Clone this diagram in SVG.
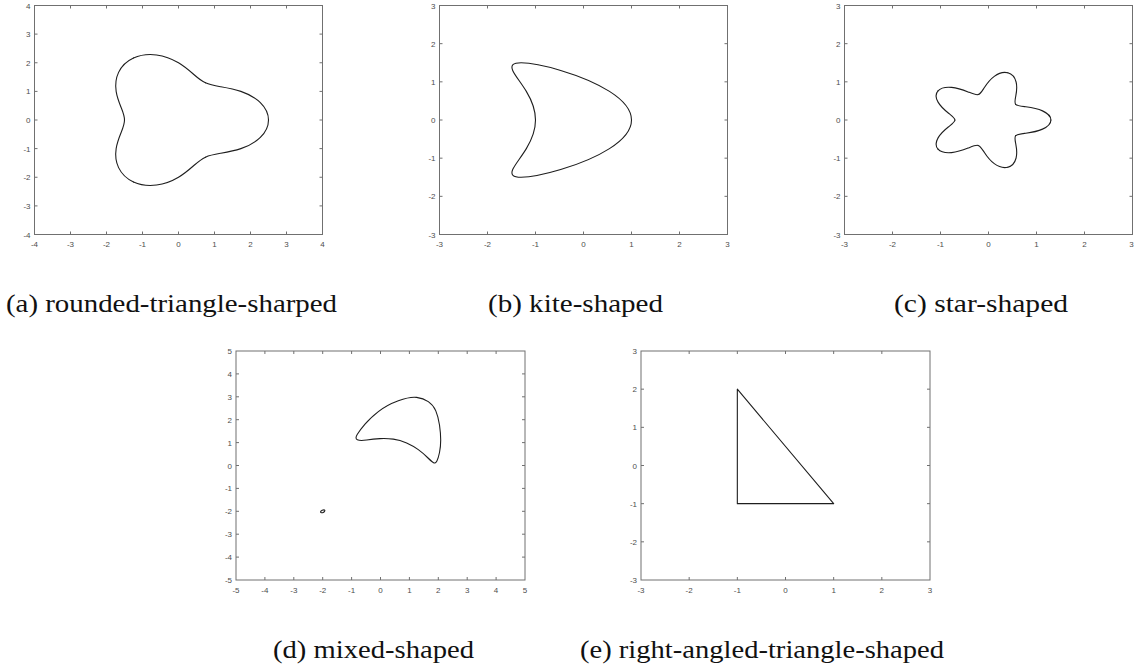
<svg xmlns="http://www.w3.org/2000/svg" xmlns:xlink="http://www.w3.org/1999/xlink" width="1135" height="668" viewBox="0 0 1135 668">
<style>
.box{fill:none;stroke:#707070;stroke-width:1}
.tick{fill:none;stroke:#707070;stroke-width:1}
.crv{fill:none;stroke:#1e1e1e;stroke-width:1.1;vector-effect:non-scaling-stroke;stroke-linecap:round;stroke-linejoin:round}
.tl{font-family:"Liberation Sans",Arial,sans-serif;font-size:8px;fill:#4d4d4d}
.tx{text-anchor:middle}
.ty{text-anchor:end}
.cap{font-family:"Liberation Serif","Times New Roman",serif;font-size:26px;fill:#111}
</style>
<defs>
<path id="lobeA" class="crv" vector-effect="non-scaling-stroke" d="M2.5 0C2.5 0.21817 2.41593 0.43471 2.27337 0.60914C2.13081 0.78357 1.93268 0.9143 1.73205 1C1.53142 1.0857 1.33126 1.12806 1.16421 1.16421C0.99716 1.20036 0.86336 1.23359 0.75 1.29904"/>
<path id="lobeC" class="crv" vector-effect="non-scaling-stroke" d="M1.3 0C1.3 0.09076 1.23027 0.17942 1.12487 0.2391C1.01947 0.29878 0.8835 0.32841 0.77652 0.34573C0.66954 0.36305 0.59503 0.37191 0.56631 0.41145"/>
</defs>
<rect width="1135" height="668" fill="#ffffff"/>

<g id="plot-a">
<rect class="box" x="34.5" y="5.5" width="288" height="229"/>
<path class="tick" d="M70.5 234.5v-3M106.5 234.5v-3M142.5 234.5v-3M178.5 234.5v-3M214.5 234.5v-3M250.5 234.5v-3M286.5 234.5v-3M70.5 5.5v3M106.5 5.5v3M142.5 5.5v3M178.5 5.5v3M214.5 5.5v3M250.5 5.5v3M286.5 5.5v3M34.5 34.1h3M34.5 62.75h3M34.5 91.4h3M34.5 120h3M34.5 148.6h3M34.5 177.25h3M34.5 205.9h3M322.5 34.1h-3M322.5 62.75h-3M322.5 91.4h-3M322.5 120h-3M322.5 148.6h-3M322.5 177.25h-3M322.5 205.9h-3"/>
<g class="tl ty">
<text x="30.5" y="8.5">4</text><text x="30.5" y="37.1">3</text><text x="30.5" y="65.8">2</text><text x="30.5" y="94.4">1</text><text x="30.5" y="123">0</text><text x="30.5" y="151.6">-1</text><text x="30.5" y="180.3">-2</text><text x="30.5" y="208.9">-3</text><text x="30.5" y="237.5">-4</text>
</g>
<g class="tl tx">
<text x="34.5" y="247">-4</text><text x="70.5" y="247">-3</text><text x="106.5" y="247">-2</text><text x="142.5" y="247">-1</text><text x="178.5" y="247">0</text><text x="214.5" y="247">1</text><text x="250.5" y="247">2</text><text x="286.5" y="247">3</text><text x="322.5" y="247">4</text>
</g>
<g transform="translate(178.5 120) scale(36 -28.625)" stroke="#1e1e1e" fill="none">
<use xlink:href="#lobeA"/>
<use xlink:href="#lobeA" transform="scale(1 -1)"/>
<use xlink:href="#lobeA" transform="rotate(120)"/>
<use xlink:href="#lobeA" transform="rotate(120) scale(1 -1)"/>
<use xlink:href="#lobeA" transform="rotate(240)"/>
<use xlink:href="#lobeA" transform="rotate(240) scale(1 -1)"/>
</g>
<text class="cap" x="171.5" y="312" text-anchor="middle" textLength="331" lengthAdjust="spacingAndGlyphs">(a) rounded-triangle-sharped</text>
</g>

<g id="plot-b">
<rect class="box" x="439.5" y="5.5" width="288" height="229"/>
<path class="tick" d="M487.5 234.5v-3M535.5 234.5v-3M583.5 234.5v-3M631.5 234.5v-3M679.5 234.5v-3M487.5 5.5v3M535.5 5.5v3M583.5 5.5v3M631.5 5.5v3M679.5 5.5v3M439.5 43.67h3M439.5 81.83h3M439.5 120h3M439.5 158.17h3M439.5 196.33h3M727.5 43.67h-3M727.5 81.83h-3M727.5 120h-3M727.5 158.17h-3M727.5 196.33h-3"/>
<g class="tl ty">
<text x="435.5" y="8.5">3</text><text x="435.5" y="46.7">2</text><text x="435.5" y="84.8">1</text><text x="435.5" y="123">0</text><text x="435.5" y="161.2">-1</text><text x="435.5" y="199.3">-2</text><text x="435.5" y="237.5">-3</text>
</g>
<g class="tl tx">
<text x="439.5" y="247">-3</text><text x="487.5" y="247">-2</text><text x="535.5" y="247">-1</text><text x="583.5" y="247">0</text><text x="631.5" y="247">1</text><text x="679.5" y="247">2</text><text x="727.5" y="247">3</text>
</g>
<path class="crv" transform="translate(583.5 120) scale(48 -38.1667)" d="M1 0C1 0.2618 0.82479 0.52328 0.54103 0.75C0.25727 0.97672 -0.12735 1.16814 -0.475 1.29904C-0.82265 1.42994 -1.12547 1.5 -1.3 1.5C-1.47453 1.5 -1.52034 1.42994 -1.475 1.29904C-1.42966 1.16814 -1.30026 0.97672 -1.19103 0.75C-1.0818 0.52328 -1 0.2618 -1 0C-1 -0.2618 -1.0818 -0.52328 -1.19103 -0.75C-1.30026 -0.97672 -1.42966 -1.16814 -1.475 -1.29904C-1.52034 -1.42994 -1.47453 -1.5 -1.3 -1.5C-1.12547 -1.5 -0.82265 -1.42994 -0.475 -1.29904C-0.12735 -1.16814 0.25727 -0.97672 0.54103 -0.75C0.82479 -0.52328 1 -0.2618 1 0Z"/>
<text class="cap" x="575.5" y="312" text-anchor="middle" textLength="175" lengthAdjust="spacingAndGlyphs">(b) kite-shaped</text>
</g>

<g id="plot-c">
<rect class="box" x="844.5" y="5.5" width="288" height="229"/>
<path class="tick" d="M892.5 234.5v-3M940.5 234.5v-3M988.5 234.5v-3M1036.5 234.5v-3M1084.5 234.5v-3M892.5 5.5v3M940.5 5.5v3M988.5 5.5v3M1036.5 5.5v3M1084.5 5.5v3M844.5 43.67h3M844.5 81.83h3M844.5 120h3M844.5 158.17h3M844.5 196.33h3M1132.5 43.67h-3M1132.5 81.83h-3M1132.5 120h-3M1132.5 158.17h-3M1132.5 196.33h-3"/>
<g class="tl ty">
<text x="840.5" y="8.5">3</text><text x="840.5" y="46.7">2</text><text x="840.5" y="84.8">1</text><text x="840.5" y="123">0</text><text x="840.5" y="161.2">-1</text><text x="840.5" y="199.3">-2</text><text x="840.5" y="237.5">-3</text>
</g>
<g class="tl tx">
<text x="844.5" y="247">-3</text><text x="892.5" y="247">-2</text><text x="940.5" y="247">-1</text><text x="988.5" y="247">0</text><text x="1036.5" y="247">1</text><text x="1084.5" y="247">2</text><text x="1131.5" y="247">3</text>
</g>
<g transform="translate(988.5 120) scale(48 -38.1667)" stroke="#1e1e1e" fill="none">
<use xlink:href="#lobeC"/>
<use xlink:href="#lobeC" transform="scale(1 -1)"/>
<use xlink:href="#lobeC" transform="rotate(72)"/>
<use xlink:href="#lobeC" transform="rotate(72) scale(1 -1)"/>
<use xlink:href="#lobeC" transform="rotate(144)"/>
<use xlink:href="#lobeC" transform="rotate(144) scale(1 -1)"/>
<use xlink:href="#lobeC" transform="rotate(216)"/>
<use xlink:href="#lobeC" transform="rotate(216) scale(1 -1)"/>
<use xlink:href="#lobeC" transform="rotate(288)"/>
<use xlink:href="#lobeC" transform="rotate(288) scale(1 -1)"/>
</g>
<text class="cap" x="981" y="312" text-anchor="middle" textLength="174" lengthAdjust="spacingAndGlyphs">(c) star-shaped</text>
</g>

<g id="plot-d">
<rect class="box" x="236" y="351" width="289" height="229"/>
<path class="tick" d="M264.9 580v-3M293.8 580v-3M322.7 580v-3M351.6 580v-3M380.5 580v-3M409.4 580v-3M438.3 580v-3M467.2 580v-3M496.1 580v-3M264.9 351v3M293.8 351v3M322.7 351v3M351.6 351v3M380.5 351v3M409.4 351v3M438.3 351v3M467.2 351v3M496.1 351v3M236 373.9h3M236 396.8h3M236 419.7h3M236 442.6h3M236 465.5h3M236 488.4h3M236 511.3h3M236 534.2h3M236 557.1h3M525 373.9h-3M525 396.8h-3M525 419.7h-3M525 442.6h-3M525 465.5h-3M525 488.4h-3M525 511.3h-3M525 534.2h-3M525 557.1h-3"/>
<g class="tl ty">
<text x="232" y="354">5</text><text x="232" y="376.9">4</text><text x="232" y="399.8">3</text><text x="232" y="422.7">2</text><text x="232" y="445.6">1</text><text x="232" y="468.5">0</text><text x="232" y="491.4">-1</text><text x="232" y="514.3">-2</text><text x="232" y="537.2">-3</text><text x="232" y="560.1">-4</text><text x="232" y="583">-5</text>
</g>
<g class="tl tx">
<text x="236" y="592.5">-5</text><text x="264.9" y="592.5">-4</text><text x="293.8" y="592.5">-3</text><text x="322.7" y="592.5">-2</text><text x="351.6" y="592.5">-1</text><text x="380.5" y="592.5">0</text><text x="409.4" y="592.5">1</text><text x="438.3" y="592.5">2</text><text x="467.2" y="592.5">3</text><text x="496.1" y="592.5">4</text><text x="525" y="592.5">5</text>
</g>
<path class="crv" d="M357.35 439.75Q354.7 438.5 357.35 434.25Q360 430 365 424.15Q370 418.3 378.35 411.65Q386.7 405 398.35 400.75Q410 396.5 416.65 397.4Q423.3 398.3 428.3 401.65Q433.3 405 435.8 410.85Q438.3 416.7 439.5 425Q440.7 433.3 440.7 440Q440.7 446.7 439.5 452.5Q438.3 458.3 436.9 461Q435.5 463.7 433.6 462.7Q431.7 461.7 427.5 457.5Q423.3 453.3 418.3 449.65Q413.3 446 406.65 443Q400 440 393.35 439.15Q386.7 438.3 380 438.65Q373.3 439 366.65 440Q360 441 357.35 439.75Z"/>
<ellipse class="crv" cx="322.7" cy="511.3" rx="2.3" ry="1.2" transform="rotate(-25 322.7 511.3)"/>
<text class="cap" x="373.5" y="658" text-anchor="middle" textLength="201" lengthAdjust="spacingAndGlyphs">(d) mixed-shaped</text>
</g>

<g id="plot-e">
<rect class="box" x="641" y="351" width="289" height="229"/>
<path class="tick" d="M689.17 580v-3M737.33 580v-3M785.5 580v-3M833.67 580v-3M881.83 580v-3M689.17 351v3M737.33 351v3M785.5 351v3M833.67 351v3M881.83 351v3M641 389.17h3M641 427.33h3M641 465.5h3M641 503.67h3M641 541.83h3M930 389.17h-3M930 427.33h-3M930 465.5h-3M930 503.67h-3M930 541.83h-3"/>
<g class="tl ty">
<text x="637" y="354">3</text><text x="637" y="392.2">2</text><text x="637" y="430.3">1</text><text x="637" y="468.5">0</text><text x="637" y="506.7">-1</text><text x="637" y="544.8">-2</text><text x="637" y="583">-3</text>
</g>
<g class="tl tx">
<text x="641" y="592.5">-3</text><text x="689.17" y="592.5">-2</text><text x="737.33" y="592.5">-1</text><text x="785.5" y="592.5">0</text><text x="833.67" y="592.5">1</text><text x="881.83" y="592.5">2</text><text x="930" y="592.5">3</text>
</g>
<path class="crv" d="M737.33 389.17L737.33 503.67L833.67 503.67Z"/>
<text class="cap" x="580" y="658" textLength="364" lengthAdjust="spacingAndGlyphs">(e) right-angled-triangle-shaped</text>
</g>
</svg>
